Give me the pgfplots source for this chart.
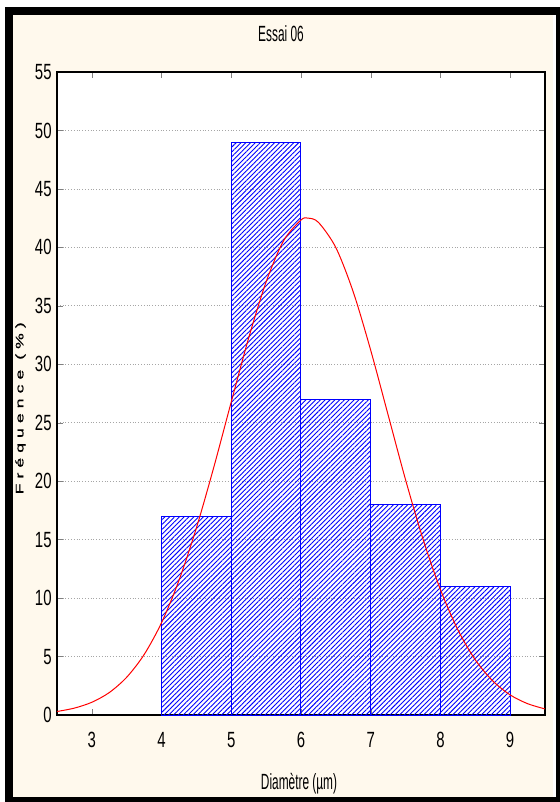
\documentclass[border=0pt]{standalone}
\usepackage{pgfplots}
\pgfplotsset{compat=1.18}
\usetikzlibrary{patterns.meta}
\usepackage{fontspec}
\setmainfont{Liberation Sans}[FakeStretch=0.54]
\newfontfamily\tickfont{Liberation Sans}[FakeStretch=0.68]
\newfontfamily\ylabfont{Liberation Sans}[FakeStretch=1.6,LetterSpace=46,FakeBold=1]
\definecolor{cream}{RGB}{255,249,237}
\definecolor{barblue}{RGB}{0,0,255}
\begin{document}
\begin{tikzpicture}
\fill[white] (-28.5pt,-43.5pt) rectangle (251.5pt,357.5pt);
\fill[black] (-26pt,-43.5pt) rectangle (251.5pt,354pt);
\fill[white] (-22pt,-41pt) rectangle (249.5pt,350pt);
\fill[cream] (-22pt,-41pt) rectangle (248pt,350pt);
\begin{axis}[
  scale only axis, width=244pt, height=321.5pt,
  xmin=2.5, xmax=9.5, ymin=0, ymax=55,
  xtick={3,...,9}, ytick={0,5,...,55},
  tick align=inside, major tick length=3pt,
  ymajorgrids, grid style={densely dotted, gray!70, line width=0.4pt},
  axis line style={line width=0.6pt},
  axis background/.style={fill=white},
  /pgf/number format/assume math mode=true,
  ticklabel style={font=\tickfont\fontsize{11}{12}\selectfont},
  xticklabel style={inner sep=0pt, yshift=-8.5pt},
  yticklabel style={inner sep=0pt, anchor=east, xshift=-2.5pt},
  title={Essai 06},
  title style={at={(axis description cs:0.459,1)}, anchor=center, yshift=13pt, font=\fontsize{11}{12}\selectfont},
  xlabel={Diamètre (µm)},
  xlabel style={at={(axis description cs:0.496,0)}, anchor=base, yshift=-37pt, font=\fontsize{11}{12}\selectfont},
  ylabel={Fréquence (\%)},
  ylabel style={at={(axis description cs:-0.0748,0.477)}, anchor=center, font=\ylabfont\fontsize{5.5}{6}\selectfont},
]
\addplot[ybar interval, draw=barblue, line width=0.5pt,
  pattern={Lines[angle=45,distance=1.7pt,line width=0.45pt]}, pattern color=barblue]
  coordinates {(4,17) (5,49) (6,27) (7,18) (8,11) (9,11)};
\addplot[red, line width=0.5pt, smooth] coordinates {
(2.5,0.30) (2.75,0.59) (3.0,1.09) (3.25,1.92) (3.5,3.23) (3.75,5.17)
(4.0,7.90) (4.25,11.52) (4.5,16.01) (4.75,21.21) (5.0,26.79) (5.25,32.26)
(5.5,37.05) (5.75,40.56) (6.0,42.34) (6.1,42.5) (6.25,42.14) (6.5,39.98)
(6.75,36.18) (7.0,31.20) (7.25,25.66) (7.5,20.12) (7.75,15.05) (8.0,10.73)
(8.25,7.29) (8.5,4.72) (8.75,2.92) (9.0,1.72) (9.25,0.97) (9.5,0.52)};
\end{axis}
\pgfresetboundingbox
\useasboundingbox (-28.5pt,-43.5pt) rectangle (251.5pt,357.5pt);
\end{tikzpicture}
\end{document}
